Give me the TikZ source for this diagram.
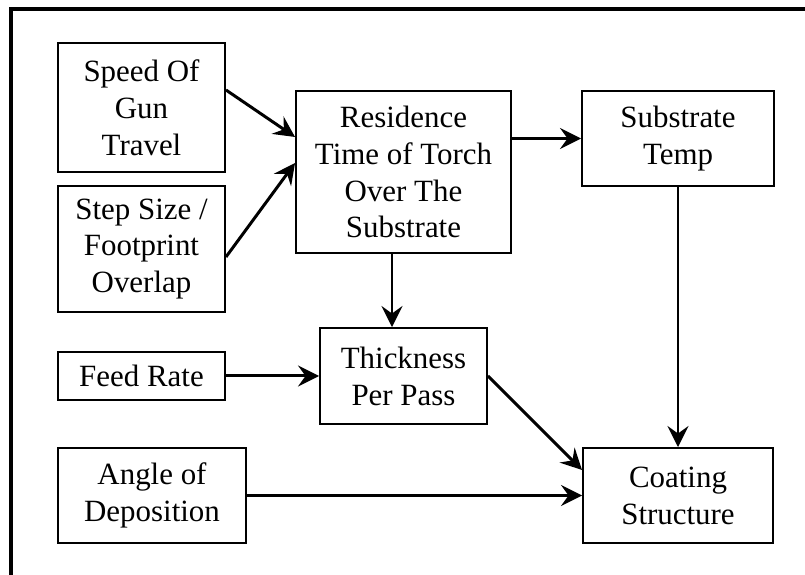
\documentclass[tikz,border=0pt]{standalone}
\usepackage{fontspec}
\setmainfont{Liberation Serif}
\usetikzlibrary{arrows.meta}

\tikzstyle{factor}=[rectangle, draw, line width=1.1pt, align=center,
                    inner sep=0.1cm, font=\fontsize{17.6}{21}\selectfont]
\tikzstyle{link}=[-{Stealth[length=0.42cm, width=0.42cm, inset=0.15cm]},
                  line width=1.7pt]

\begin{document}
\begin{tikzpicture}

  \useasboundingbox (0, 0) rectangle (16.1, 11.5);
  \clip (0, 0) rectangle (16.1, 11.5);

  %%%%%%%%%%%%%%%%%%%%%%%%%%%%%%
  % frame
  \draw [line width=2pt] (0.22, 11.32) rectangle (16.6, -0.6);

  %%%%%%%%%%%%%%%%%%%%%%%%%%%%%%
  % nodes
  % inputs
  \node (speed) at (2.83, 9.35) [factor, minimum width=3.34cm, minimum height=2.58cm] {Speed Of\\Gun\\Travel};

  \node (step) at (2.83, 6.52) [factor, minimum width=3.34cm, minimum height=2.52cm] {Step Size /\\Footprint\\Overlap};

  \node (feed) at (2.83, 3.98) [factor, minimum width=3.34cm, minimum height=0.96cm] {Feed Rate};

  \node (angle) at (3.04, 1.59) [factor, minimum width=3.76cm, minimum height=1.9cm] {Angle of\\Deposition};

  % intermediate
  \node (res) at (8.07, 8.06) [factor, minimum width=4.3cm, minimum height=3.24cm] {Residence\\Time of Torch\\Over The\\Substrate};

  \node (thick) at (8.07, 3.98) [factor, minimum width=3.34cm, minimum height=1.92cm] {Thickness\\Per Pass};

  \node (temp) at (13.56, 8.73) [factor, minimum width=3.84cm, minimum height=1.9cm] {Substrate\\Temp};

  % result
  \node (coat) at (13.56, 1.59) [factor, minimum width=3.8cm, minimum height=1.9cm] {Coating\\Structure};

  %%%%%%%%%%%%%%%%%%%%%%%%%%%%%%
  % links
  \draw [link] ([yshift=0.35cm]speed.east) to ([yshift=0.7cm]res.west);

  \draw [link] ([yshift=-0.16cm]step.east) to ([yshift=0.18cm]res.west);

  \draw [link] (res.east |- temp.west) to (temp.west);

  \draw [link] ([xshift=-0.23cm]res.south) to ([xshift=-0.23cm]thick.north);

  \draw [link] (feed) to (thick);

  \draw [link] (thick.east) to ([yshift=0.51cm]coat.west);

  \draw [link] (temp) to (coat);

  \draw [link] (angle) to (coat);

\end{tikzpicture}
\end{document}
